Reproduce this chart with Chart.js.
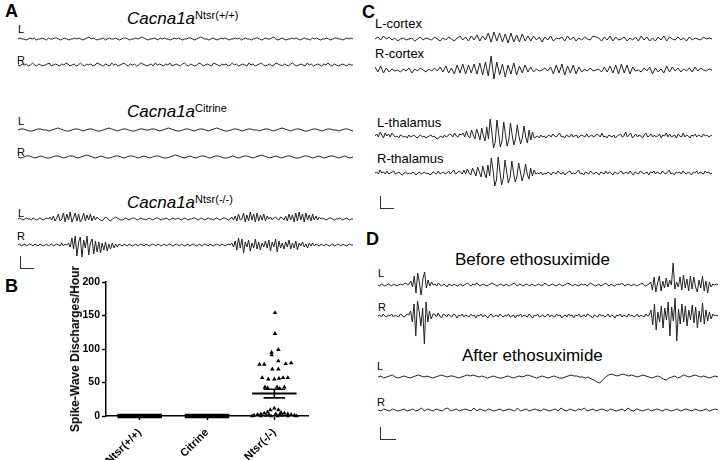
<!DOCTYPE html>
<html>
<head>
<meta charset="utf-8">
<script src="https://cdn.jsdelivr.net/npm/chart.js@4.4.1/dist/chart.umd.min.js"></script>
<style>
  html, body { margin: 0; padding: 0; background: #fff; }
  #fig { position: relative; width: 720px; height: 460px; overflow: hidden; font-family: "Liberation Sans", Arial, sans-serif; color: #000; }
  .t { position: absolute; white-space: nowrap; }
  .panel { font-weight: bold; font-size: 18px; line-height: 18px; }
  .lr { font-size: 11px; line-height: 11px; }
  .ch { font-size: 13px; line-height: 13px; }
  .ttl { font-size: 17px; line-height: 17px; }
  .ttl i { font-style: italic; }
  .ttl sup { font-size: 11px; vertical-align: 5px; line-height: 0; }
  .ytitle { font-weight: bold; font-size: 12px; line-height: 12px; transform: translate(-50%, -50%) rotate(-90deg); z-index: 2; }
  .bar { position: absolute; border-left: 1px solid #333; border-bottom: 1px solid #333; }
  canvas { position: absolute; }
</style>
</head>
<body>
<div id="fig">
  <div class="t panel" style="left:5px;top:2px">A</div>
  <div class="t panel" style="left:5px;top:277px">B</div>
  <div class="t panel" style="left:362px;top:3px">C</div>
  <div class="t panel" style="left:366px;top:230px">D</div>

  <div class="t ttl" style="left:127px;top:10px"><i>Cacna1a</i><sup>Ntsr(+/+)</sup></div>
  <div class="t ttl" style="left:127px;top:103px"><i>Cacna1a</i><sup>Citrine</sup></div>
  <div class="t ttl" style="left:127px;top:194px"><i>Cacna1a</i><sup>Ntsr(-/-)</sup></div>

  <div class="t lr" style="left:18px;top:24px">L</div>
  <div class="t lr" style="left:17px;top:55px">R</div>
  <div class="t lr" style="left:18px;top:116px">L</div>
  <div class="t lr" style="left:17px;top:147px">R</div>
  <div class="t lr" style="left:18px;top:208px">L</div>
  <div class="t lr" style="left:17px;top:231px">R</div>

  <div class="t ch" style="left:375px;top:17px">L-cortex</div>
  <div class="t ch" style="left:375px;top:47px">R-cortex</div>
  <div class="t ch" style="left:377px;top:116px">L-thalamus</div>
  <div class="t ch" style="left:377px;top:152px">R-thalamus</div>

  <div class="t ttl" style="left:455px;top:251px">Before ethosuximide</div>
  <div class="t ttl" style="left:462px;top:347px">After ethosuximide</div>
  <div class="t lr" style="left:378px;top:268px">L</div>
  <div class="t lr" style="left:378px;top:302px">R</div>
  <div class="t lr" style="left:377px;top:361px">L</div>
  <div class="t lr" style="left:377px;top:397px">R</div>

  <div class="t ytitle" style="left:75px;top:348.5px">Spike-Wave Discharges/Hour</div>

  <div class="bar" style="left:20px;top:256px;width:13px;height:12px"></div>
  <div class="bar" style="left:380px;top:196px;width:13px;height:12px"></div>
  <div class="bar" style="left:380px;top:427px;width:15px;height:12px"></div>
</div>
<script>
// ---------------- Panel B data ----------------
const groups = ['Ntsr(+/+)', 'Citrine', 'Ntsr(-/-)'];
const yTickValues = [0, 50, 100, 150, 200];
const groupMeans = [0, 0, 33.5];
const groupSEM = [0, 0, 6.5];
const knockoutValues = [154, 123, 99, 95, 91, 82, 77, 77, 78, 79, 70, 70, 57, 55, 55, 56, 57, 57, 43, 42, 43, 43, 41,
  11.5, 9, 9, 6, 5, 4, 4, 3, 3, 3, 2, 2, 2, 2, 1, 1, 1, 1, 0, 0, 0, 0, 0, 0];
const knockoutJitter = [0.01, 0.01, 0.06, -0.04, -0.04, 0.06, -0.22, -0.15, 0.17, 0.25, -0.03, 0.06, -0.18, -0.09, 0.0, 0.07, 0.13, 0.2, -0.14, -0.1, 0.04, 0.15, 0.08,
  0.0, -0.06, 0.06, -0.1, 0.1, -0.15, 0.15, -0.2, 0.2, 0.02, -0.25, 0.25, -0.08, 0.08, -0.3, 0.3, -0.12, 0.12, -0.33, 0.33, -0.2, 0.2, -0.05, 0.05];

// ---------------- EEG trace samples (amplitude, arbitrary units) ----------------
const a1L = [0,1,0,0,-1,0,1,0,1,-1,0,0,1,0,-1,1,0,0,1,1,0,-1,0,1,0,-1,0,0,1,0,1,0,-1,0,1,2,0,1,0,-1,0,0,1,-1,0,1,0,0,1,0,-1,0,1,1,0,-1,0,0,1,0,1,2,1,0,-1,0,0,1,0,-1,1,0,1,0,0,-1,0,1,0,1,0,-1,0,0,1,1,0,-1,0,1,2,1,0,0,-1,0,1,0,-1,0,1,0,1,0,-1,0,0,1,0,1,-1,0,1,0,0,-1,0,1,1,0,-1,0,1,0,0,1,2,0,-1,0,1,0,-1,0,0,1,0,1,0,-1,0,1,0,0,-1,1,0,1,0,-1,0,0,1,0,-1,0,1,1,0,0,-1,0,1,0,1,0];
const a1R = [0,-1,1,0,1,-1,0,2,0,-1,1,0,-1,0,1,2,-1,0,1,0,-1,1,0,2,1,-1,0,1,-1,0,2,0,-1,1,0,1,-1,0,2,1,0,-1,1,0,-1,2,0,1,-1,0,1,2,0,-1,1,0,1,-1,0,2,1,0,-1,0,1,-1,2,0,1,0,-1,1,0,2,-1,0,1,0,-1,1,2,0,-1,1,0,-1,0,2,1,-1,0,1,0,-1,2,1,0,-1,1,0,1,-1,0,2,0,1,-1,0,1,0,-1,2,0,1,-1,0,1,2,0,-1,0,1,-1,0,2,1,0,-1,1,0,-1,1,2,0,-1,0,1,0,-1,2,0,1,-1,0,1,0,-1,1,0,2,0,-1,1,0,-1,0,1,0,-1,1,0,0];
const a2L = [0,1,1,0,-1,-1,0,1,1,0,0,-1,0,1,2,1,0,-1,-1,0,1,1,0,-1,0,1,1,0,-1,-1,0,1,2,1,0,-1,0,1,1,0,-1,-1,0,1,1,0,0,1,1,0,-1,0,1,2,1,0,-1,-1,0,1,1,0,-1,0,1,1,0,-1,0,1,2,1,0,-1,-1,0,1,1,0,-1,0,1,1,0,0,-1,0,1,1,0,-1,0,1,2,1,0,-1,0,1,1,0,-1,-1,0,1,1,0,-1,0,1,1,0,0,-1,0,1,1,0,-1];
const a2R = [0,-1,0,1,1,0,-1,0,1,0,-1,-1,0,1,1,0,-1,0,1,1,0,-1,0,1,2,1,0,-1,0,1,0,-1,-1,0,1,1,0,-1,0,1,1,0,-1,0,1,0,-1,0,1,1,0,-1,-1,0,1,2,1,0,-1,0,1,0,-1,0,1,1,0,-1,0,1,1,0,-1,-1,0,1,0,-1,0,1,1,0,-1,0,1,2,1,0,-1,0,1,0,-1,0,1,1,0,-1,-1,0,1,1,0,-1,0,1,0,-1,0,1,1,0,-1,0,1,0,-1,0];
const a3L = [0,1,0,-1,0,1,0,0,-1,1,0,-1,0,1,0,-1,0,1,0,
  2,-1,3,-2,1,5,-2,0,6,-3,5,-1,7,-3,1,6,-2,5,-3,0,6,-2,4,-1,5,-2,3,-1,
  2,0,-1,-2,0,2,1,-1,-2,0,
  1,2,1,0,-1,-1,0,1,0,-1,0,1,1,0,-1,0,1,0,0,-1,0,1,0,-1,0,1,1,0,-1,0,0,1,0,-1,0,1,0,0,1,0,-1,0,1,0,-1,0,0,1,1,0,-1,0,1,0,-1,0,1,0,0,-1,0,1,0,-1,0,1,1,0,-1,0,
  2,-1,3,-2,5,-1,0,6,-3,4,-2,7,-1,5,-3,6,-2,4,-1,5,-2,3,0,2,-1,1,2,0,-1,2,1,-1,3,-2,5,-1,4,-3,6,-2,7,-1,5,-3,6,-1,4,-2,5,-1,3,-1,2,
  0,1,0,-1,0,1,1,0,-1,0,0,1,0,-1,0,1,0,-1,0,0];
const a3R = [0,1,-1,0,1,-1,0,1,0,-1,1,0,-1,1,0,-1,0,1,-1,0,1,-1,0,1,0,-1,2,-1,1,0,
  2,-2,7,-4,9,-11,3,8,-12,5,-3,9,-10,2,6,-9,4,-7,3,-8,2,-5,3,-6,1,-4,2,-3,1,-2,1,
  0,-1,1,0,-1,1,0,-1,0,1,-1,0,1,0,-1,1,0,-1,0,1,0,-1,1,0,-1,0,1,-1,0,1,0,-1,0,1,0,-1,1,0,-1,0,1,-1,0,1,0,-1,0,1,-1,0,1,0,-1,1,0,-1,0,1,0,-1,1,0,-1,0,1,0,
  2,-2,4,-5,7,-3,6,-8,3,-2,5,-6,2,-3,6,-4,3,-5,2,-2,4,-3,5,-6,3,-2,6,-7,4,-3,2,-4,3,-2,5,-4,2,-3,4,-5,2,-1,3,-2,1,-3,2,-1,2,-1,1,0,-1,
  1,0,-1,1,0,-1,0,1,-1,0,1,0,-1,1,0,-1,0,1,0,0];
const cLCortex = [0,2,-1,3,0,2,-1,1,-2,0,1,-1,0,1,-2,0,2,-1,1,0,-1,2,0,-2,1,-1,2,0,-2,1,3,-1,2,-2,3,-1,4,-2,3,-1,
  6,-3,7,-2,6,-3,5,-4,6,-3,4,-3,5,-2,3,
  -2,3,-1,2,-3,2,-1,3,-2,1,0,2,-2,3,-1,2,-2,1,-1,2,0,-1,3,2,1,-2,2,-1,3,-2,2,-1,0,2,-2,1,-1,2,-2,3,-1,2,-2,1,-2,2,-1,3,-2,2,0,-1,2,-1,1,-2,2,-1,1,0,-1,2,0,1,0];
const cRCortex = [3,-2,4,-3,2,-2,1,-1,0,-2,1,-1,2,-3,1,-1,2,0,-2,1,-1,2,-1,3,-2,4,-3,2,-4,5,-3,6,-4,5,-3,6,-4,
  7,-5,8,-6,14,-9,8,-5,6,-7,5,-4,7,-5,4,-3,5,-2,3,
  -2,1,-1,0,2,-1,3,-4,5,-3,6,-5,4,-3,5,-4,3,-2,1,-1,2,-1,0,1,-2,3,-2,4,-3,5,-4,6,-3,5,-4,3,-1,0,-2,2,-1,3,-4,2,-2,1,-3,4,-2,3,-1,2,-2,1,-1,2,-2,3,-1,2,0,-1,1,0];
const cLThal = [0,2,-1,4,1,-2,3,0,2,-1,3,1,-1,0,-2,1,0,-1,0,-2,1,-1,0,1,-1,-2,0,1,-1,0,-2,-1,0,1,-1,0,-2,-3,-1,0,-2,1,-1,0,2,1,-1,3,0,-1,2,1,
  3,-1,5,0,-2,6,1,-3,7,2,-4,8,0,-5,9,-3,
  17,4,-12,-6,16,3,-11,-5,14,2,-10,-4,13,1,-9,-3,11,0,-8,-2,10,-1,-7,6,-4,4,-2,
  -1,0,-2,1,-1,0,-2,0,1,-1,2,0,-1,1,3,-1,0,-2,1,0,-1,2,-1,0,1,-2,0,1,0,-1,2,-1,0,1,-1,0,2,1,-1,3,-1,0,-2,1,0,-1,1,-2,0,1,2,-1,0,4,-1,1,3,-2,0,2,-1,1,0,-2,1,3,-1,0,2,-1,1,-1,0,2,-2,1,0,3,-1,2,-1,0,1,-2,2,0,-1,3,-1,1,0,-2,1,0,2,-1,1,0,-1,2,0,1,-1,0,1];
const cRThal = [0,1,-1,3,0,1,-1,2,-1,0,1,2,-1,0,1,-1,-2,0,1,-1,0,-1,1,0,-2,0,1,-1,0,1,-1,0,-2,-1,1,0,-1,2,-1,0,1,-1,0,2,-1,1,3,-1,0,2,1,-1,
  3,-1,4,0,-2,5,1,-3,6,1,-4,7,0,-5,8,-3,
  15,3,-13,-7,16,2,-12,-5,13,1,-10,-4,12,0,-9,-3,10,1,-8,-2,9,-1,-6,5,-3,3,-1,
  0,-1,1,-2,0,-1,1,0,-2,1,0,-1,2,0,-1,1,-2,0,1,2,-1,0,-1,1,3,-1,0,-2,1,0,-1,2,0,-1,1,0,-2,1,0,-1,2,-1,1,0,-2,1,0,-1,1,2,-1,0,1,-1,2,0,-2,1,0,-1,2,1,-1,0,1,-2,1,0,2,-1,1,0,-1,2,0,-1,1,3,-1,0,-2,1,0,1,-1,2,0,-1,1,0,-2,1,0,2,-1,1,0,-1,2,0,1,-1,0];
const dBeforeL = [0,-1,1,0,-1,0,1,0,-1,1,0,-1,0,1,0,1,2,0,1,
  4,-2,9,-8,12,2,-10,6,13,-3,5,-1,3,0,
  1,-1,2,0,-1,1,0,-2,1,0,-1,1,0,-1,0,1,-1,0,1,2,0,-1,1,0,2,1,-1,0,1,0,-1,0,1,2,1,0,-1,0,1,0,-1,1,0,-1,0,1,2,0,-1,1,0,-1,0,1,0,-1,1,0,-1,0,1,0,-1,1,2,0,-1,0,1,0,-1,0,1,0,-1,0,1,2,1,0,-1,1,0,-1,0,1,0,1,-1,0,2,1,0,-1,0,1,-1,0,1,2,0,-1,1,0,-1,0,1,0,2,1,-1,0,1,0,-1,1,0,-1,0,1,2,0,-1,0,1,
  3,-5,8,-7,2,9,-6,4,-3,7,-2,5,0,22,-4,3,-2,8,-5,10,-3,6,-6,9,-4,8,-2,-7,5,-3,9,-6,4,-8,3,-2,1,0,
  1,0];
const dBeforeR = [0,1,-1,2,0,-1,1,0,2,-1,1,0,-1,2,1,-1,0,2,1,
  5,-6,12,-20,15,4,-10,8,-28,14,-6,5,-3,2,
  2,-1,3,0,-2,2,1,-1,2,0,-1,2,1,-2,1,0,2,-1,1,0,-1,2,0,1,-2,1,0,2,-1,1,0,-2,1,2,-1,0,1,-1,2,0,-1,1,0,2,-1,0,1,-2,1,0,2,-1,1,0,-1,2,0,-2,1,0,2,-1,0,1,-1,0,2,-1,1,0,-1,2,0,1,-2,0,1,-1,2,0,1,-2,1,0,2,-1,0,1,-1,2,1,0,-2,1,0,-1,2,0,1,-1,0,2,-1,1,0,-2,1,0,2,-1,1,0,-1,2,0,1,-1,0,2,-1,1,0,-1,2,0,1,
  6,-9,12,-14,4,-6,10,-12,8,-4,14,-20,9,-5,18,-25,7,-8,12,-6,10,-10,6,-4,11,-7,9,-12,5,-6,13,-8,6,-5,4,-3,2,0,
  1,0];
const dAfterL = [0,1,-1,0,1,2,0,-1,0,1,0,-1,0,1,2,1,0,1,0,-1,0,1,2,1,0,1,1,0,-1,0,1,2,1,2,1,0,1,0,-1,0,1,0,-1,-1,0,1,0,-1,0,1,0,1,2,1,0,-1,0,1,0,-1,0,1,0,-1,-1,0,1,2,1,1,0,0,-1,0,-2,-3,-5,-6,-3,0,2,3,2,1,2,3,2,1,2,1,0,1,2,1,0,-1,0,1,0,-2,-3,-1,0,1,-1,0,2,1,0,1,2,1,0,1,0,-1,0,1,0];
const dAfterR = [0,-1,1,0,-1,1,0,-1,0,1,-1,0,1,-1,0,2,-1,1,0,-1,1,0,-1,1,2,-1,0,1,-1,0,1,0,-1,2,-1,1,0,-1,1,0,-1,0,1,-1,0,1,0,-1,2,-1,0,1,-1,0,1,0,-1,1,0,-1,0,1,-1,2,0,-1,1,0,-1,1,0,2,-1,0,1,-1,0,1,0,-1,1,0,-1,0,1,-1,2,0,-1,1,0,-1,0,1,-1,0,1,0,-1,1,0,-1,0,1,-1,0,1,0,-1,1,0,-1,0,1,-1,0,1,0];

// ---------------- Layout (positions / sizes only) ----------------
const traceLayout = [
  { data: a1L, left: 18, cy: 38.5, width: 335, range: 8 },
  { data: a1R, left: 18, cy: 65, width: 335, range: 8 },
  { data: a2L, left: 18, cy: 129.5, width: 335, range: 8 },
  { data: a2R, left: 18, cy: 157, width: 335, range: 8 },
  { data: a3L, left: 18, cy: 218.5, width: 335, range: 16 },
  { data: a3R, left: 18, cy: 245, width: 335, range: 16 },
  { data: cLCortex, left: 375, cy: 38.5, width: 337, range: 12 },
  { data: cRCortex, left: 375, cy: 70, width: 337, range: 18 },
  { data: cLThal, left: 375, cy: 136, width: 337, range: 20 },
  { data: cRThal, left: 375, cy: 172.5, width: 337, range: 20 },
  { data: dBeforeL, left: 378, cy: 285, width: 340, range: 26 },
  { data: dBeforeR, left: 378, cy: 315.5, width: 340, range: 30 },
  { data: dAfterL, left: 378, cy: 377, width: 340, range: 10 },
  { data: dAfterR, left: 378, cy: 410, width: 340, range: 8 }
];

const fig = document.getElementById('fig');
function makeCanvas(left, top, w, h) {
  const c = document.createElement('canvas');
  c.width = w; c.height = h;
  c.style.left = left + 'px'; c.style.top = top + 'px';
  c.style.width = w + 'px'; c.style.height = h + 'px';
  fig.appendChild(c);
  return c;
}

traceLayout.forEach(t => {
  const h = t.range * 2;
  const c = makeCanvas(t.left, Math.round(t.cy - t.range), t.width, h);
  new Chart(c, {
    type: 'line',
    data: {
      labels: t.data.map((_, i) => i),
      datasets: [{ data: t.data, borderColor: '#222', borderWidth: 1, pointRadius: 0, tension: 0, fill: false, clip: false }]
    },
    options: {
      responsive: false, animation: false, devicePixelRatio: 1,
      layout: { padding: 0 },
      plugins: { legend: { display: false }, tooltip: { enabled: false } },
      events: [],
      scales: {
        x: { display: false, offset: false },
        y: { display: false, min: -t.range, max: t.range }
      }
    }
  });
});

// ---------------- Panel B ----------------
const bCanvas = makeCanvas(0, 270, 330, 190);
const FONT = '"Liberation Sans", Arial, sans-serif';
const meanHalf = 0.33, semHalf = 0.16;

const zeroMeanData = [];
const koMeanData = [];
groups.forEach((g, i) => {
  const seg = [{ x: i + 1 - meanHalf, y: groupMeans[i] }, { x: i + 1 + meanHalf, y: groupMeans[i] }, { x: i + 1, y: null }];
  if (groupMeans[i] === 0 && groupSEM[i] === 0) zeroMeanData.push(...seg); else koMeanData.push(...seg);
});
const semData = [];
groups.forEach((g, i) => {
  if (groupSEM[i] > 0) {
    const hi = groupMeans[i] + groupSEM[i], lo = groupMeans[i] - groupSEM[i];
    semData.push({ x: i + 1 - semHalf, y: hi }, { x: i + 1 + semHalf, y: hi }, { x: i + 1, y: null },
      { x: i + 1, y: hi }, { x: i + 1, y: lo }, { x: i + 1, y: null },
      { x: i + 1 - semHalf, y: lo }, { x: i + 1 + semHalf, y: lo }, { x: i + 1, y: null });
  }
});

new Chart(bCanvas, {
  type: 'scatter',
  data: {
    datasets: [
      { data: knockoutValues.map((v, i) => ({ x: 3 + knockoutJitter[i], y: v })), pointStyle: 'triangle', pointRadius: 2.6,
        backgroundColor: '#000', borderColor: '#000', borderWidth: 0, showLine: false, clip: false },
      { data: zeroMeanData, showLine: true, spanGaps: false, borderColor: '#000', borderWidth: 4.5, pointRadius: 0, clip: false, borderCapStyle: 'butt' },
      { data: koMeanData, showLine: true, spanGaps: false, borderColor: '#000', borderWidth: 2, pointRadius: 0, clip: false },
      { data: semData, showLine: true, spanGaps: false, borderColor: '#000', borderWidth: 1.6, pointRadius: 0, clip: false }
    ]
  },
  options: {
    responsive: false, animation: false, devicePixelRatio: 1, events: [],
    layout: { padding: { left: 64, right: 22, top: 12, bottom: 0 } },
    plugins: { legend: { display: false }, tooltip: { enabled: false } },
    scales: {
      x: {
        type: 'linear', min: 0.5, max: 3.5,
        afterBuildTicks: s => { s.ticks = groups.map((g, i) => ({ value: i + 1 })); },
        afterFit: s => { s.height = 44; s.paddingLeft = 0; s.paddingRight = 0; },
        ticks: { callback: (v, i) => groups[i], minRotation: 45, maxRotation: 45, autoSkip: false, padding: 6,
          color: '#000', font: { family: FONT, size: 11, weight: 'bold' } },
        grid: { drawOnChartArea: false, drawTicks: true, tickLength: 4, tickColor: '#000', tickWidth: 1.5 },
        border: { display: true, color: '#000', width: 1.5 }
      },
      y: {
        min: 0, max: 200,
        afterBuildTicks: s => { s.ticks = yTickValues.map(v => ({ value: v })); },
        afterFit: s => { s.width = 42; s.paddingTop = 0; s.paddingBottom = 0; },
        ticks: { padding: 2, color: '#000', font: { family: FONT, size: 10.5, weight: 'bold' } },
        grid: { drawOnChartArea: false, drawTicks: true, tickLength: 4, tickColor: '#000', tickWidth: 1.5 },
        border: { display: true, color: '#000', width: 1.5 },
        title: { display: false }
      }
    }
  }
});
</script>
</body>
</html>
